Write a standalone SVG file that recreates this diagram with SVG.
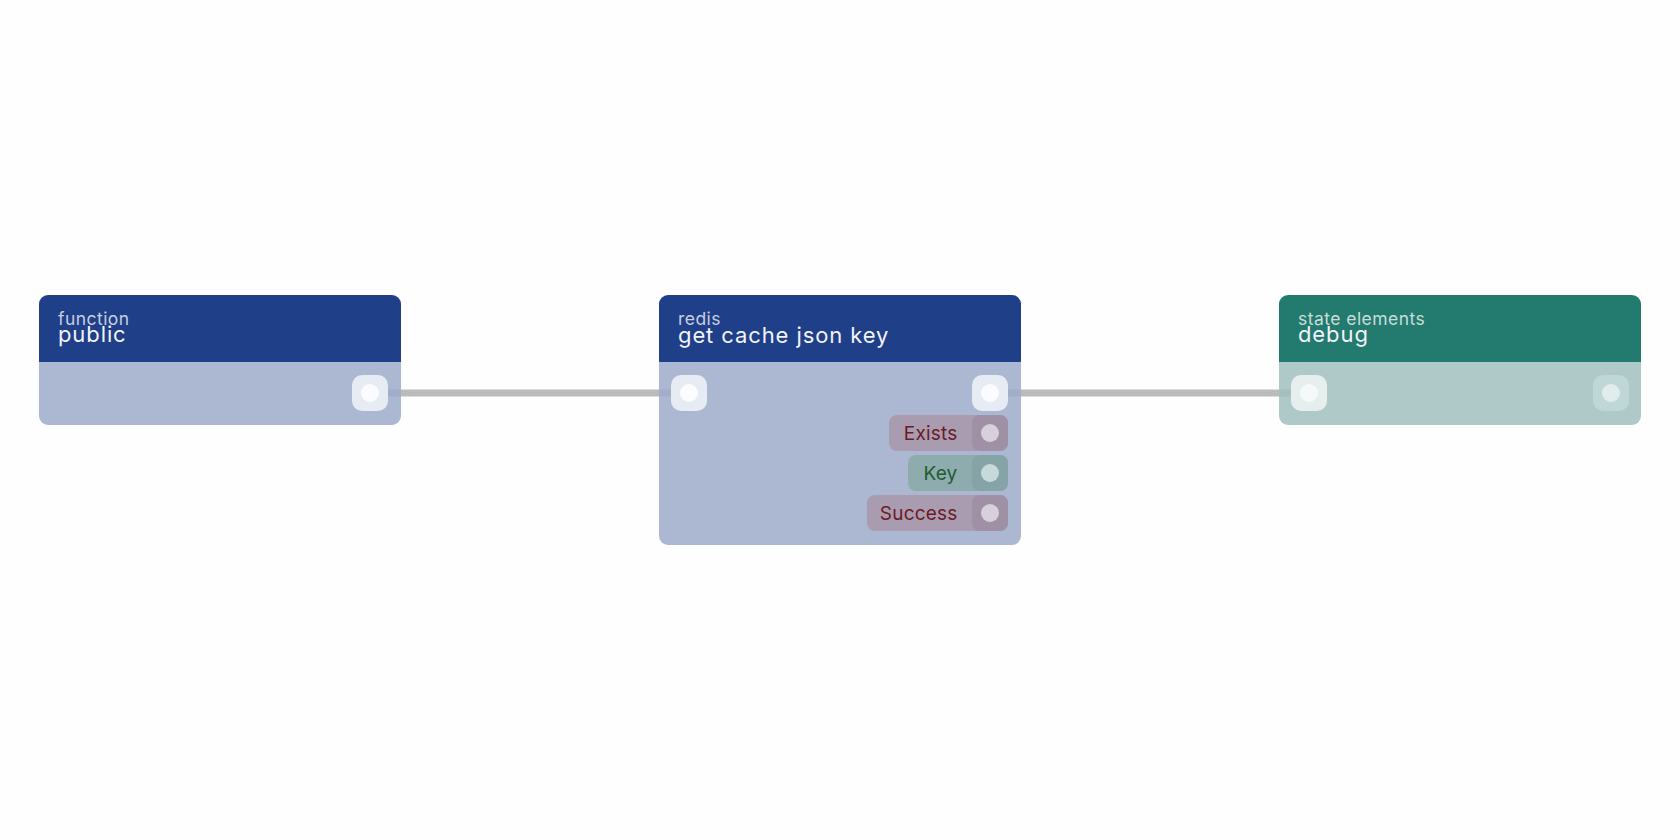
<svg xmlns="http://www.w3.org/2000/svg" width="1680" height="840" viewBox="0 0 1680 840">
  <style>
    .sub { font-family: Inter, "Noto Sans", sans-serif; font-size: 17.5px; letter-spacing: 0.45px; fill: #ffffff; fill-opacity: 0.75; }
    .title { font-family: Inter, "Noto Sans", sans-serif; font-size: 22px; letter-spacing: 0.9px; fill: #f1f3f9; }
    .hdr-blue { fill: #1f3f88; }
    .body-blue { fill: #9eabca; fill-opacity: 0.85; }
    .hdr-teal { fill: #237a6f; }
    .body-teal { fill: #a1c0bf; fill-opacity: 0.85; }
    .port { fill: #e7ebf3; }
    .dot { fill: #fbfcfe; }
    .lbl { font-family: Inter, "Noto Sans", sans-serif; font-size: 19px; letter-spacing: 0.2px; text-anchor: end; }
    .row-red { fill: #a99bb0; }
    .sq-red { fill: #a090a6; }
    .dot-red { fill: #d8d0dc; }
    .txt-red { fill: #6b1b24; }
    .row-green { fill: #8eabae; }
    .sq-green { fill: #86a3a7; }
    .dot-green { fill: #c8d9da; }
    .txt-green { fill: #1e5c30; }
    .edge { stroke: #bbbbbb; stroke-width: 7; fill: none; }
  </style>
  <rect width="1680" height="840" fill="#fefefe"/>
  <g id="connectors">
    <path class="edge" d="M370,393 H689"/>
    <path class="edge" d="M990,393 H1309"/>
  </g>
  <g id="node-public">
    <path class="hdr-blue" d="M39,362 V304 A9,9 0 0 1 48,295 H392 A9,9 0 0 1 401,304 V362 Z"/>
    <path class="body-blue" d="M39,362 H401 V416 A9,9 0 0 1 392,425 H48 A9,9 0 0 1 39,416 Z"/>
    <text class="sub" x="58" y="325">function</text>
    <text class="title" x="58" y="342">public</text>
    <rect class="port" x="352" y="375" width="36" height="36" rx="10"/>
    <circle class="dot" cx="370" cy="393" r="9"/>
  </g>
  <g id="node-redis">
    <path class="hdr-blue" d="M659,362 V304 A9,9 0 0 1 668,295 H1012 A9,9 0 0 1 1021,304 V362 Z"/>
    <path class="body-blue" d="M659,362 H1021 V536 A9,9 0 0 1 1012,545 H668 A9,9 0 0 1 659,536 Z"/>
    <text class="sub" x="678" y="325">redis</text>
    <text class="title" x="678" y="342.5">get cache json key</text>
    <rect class="port" x="671" y="375" width="36" height="36" rx="10"/>
    <circle class="dot" cx="689" cy="393" r="9"/>
    <rect class="port" x="972" y="375" width="36" height="36" rx="10"/>
    <circle class="dot" cx="990" cy="393" r="9"/>
    <g id="out-exists">
      <rect class="row-red" x="889" y="415" width="119" height="36" rx="8"/>
      <rect class="sq-red" x="972" y="415" width="36" height="36" rx="8"/>
      <circle class="dot-red" cx="990" cy="433" r="9"/>
      <text class="lbl txt-red" x="957.5" y="440">Exists</text>
    </g>
    <g id="out-key">
      <rect class="row-green" x="908" y="455" width="100" height="36" rx="8"/>
      <rect class="sq-green" x="972" y="455" width="36" height="36" rx="8"/>
      <circle class="dot-green" cx="990" cy="473" r="9"/>
      <text class="lbl txt-green" x="957.5" y="480">Key</text>
    </g>
    <g id="out-success">
      <rect class="row-red" x="867" y="495" width="141" height="36" rx="8"/>
      <rect class="sq-red" x="972" y="495" width="36" height="36" rx="8"/>
      <circle class="dot-red" cx="990" cy="513" r="9"/>
      <text class="lbl txt-red" x="957.5" y="520">Success</text>
    </g>
  </g>
  <g id="node-debug">
    <path class="hdr-teal" d="M1279,362 V304 A9,9 0 0 1 1288,295 H1632 A9,9 0 0 1 1641,304 V362 Z"/>
    <path class="body-teal" d="M1279,362 H1641 V416 A9,9 0 0 1 1632,425 H1288 A9,9 0 0 1 1279,416 Z"/>
    <text class="sub" x="1298" y="325">state elements</text>
    <text class="title" x="1298" y="342">debug</text>
    <rect x="1291" y="375" width="36" height="36" rx="10" fill="#e6efee"/>
    <circle cx="1309" cy="393" r="9" fill="#f6f9f9"/>
    <rect x="1593" y="375" width="36" height="36" rx="10" fill="#bfd7d6"/>
    <circle cx="1611" cy="393" r="9" fill="#e1ecec"/>
  </g>
</svg>
